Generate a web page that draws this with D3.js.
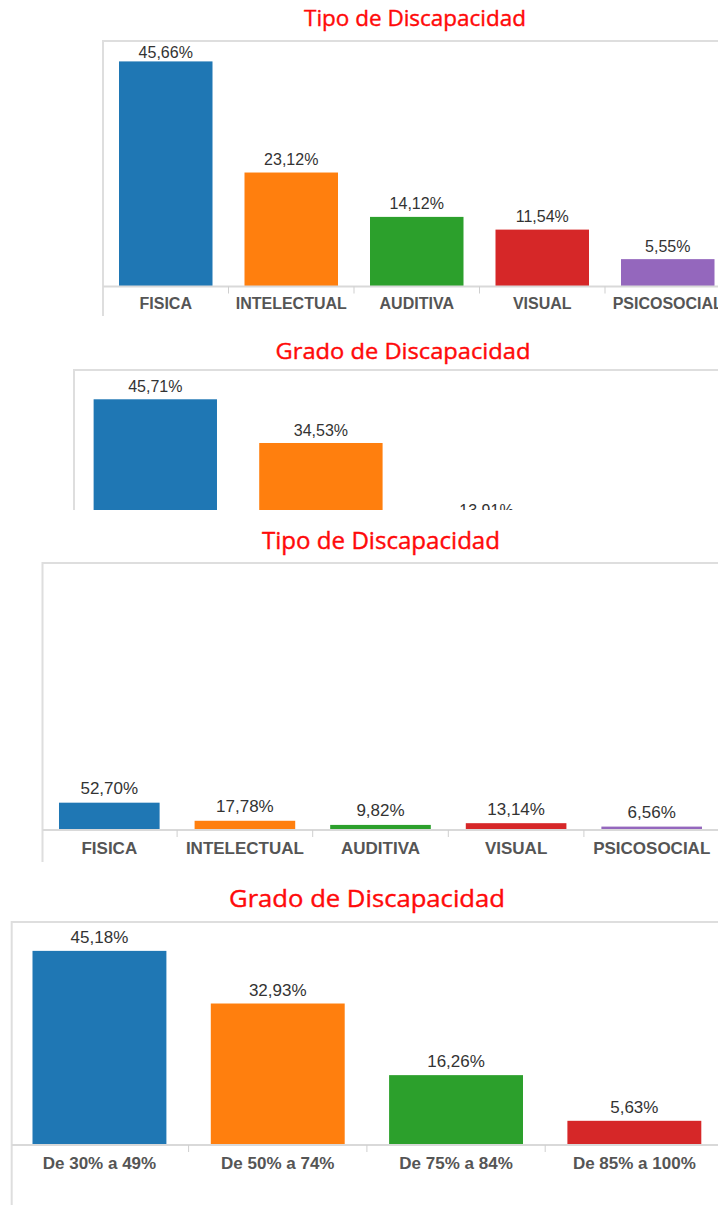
<!DOCTYPE html>
<html>
<head>
<meta charset="utf-8">
<script src="https://cdn.jsdelivr.net/npm/d3@7"></script>
<style>
  html, body { margin: 0; padding: 0; background: #fff; }
  svg { display: block; }
</style>
</head>
<body>
<svg id="chart" width="718" height="1205"></svg>
<script>
// Tipo de discapacidad (categorías comunes a ambos gráficos de tipo)
const tipoCategorias = ["FISICA", "INTELECTUAL", "AUDITIVA", "VISUAL", "PSICOSOCIAL"];
// Grado de discapacidad
const gradoCategorias = ["De 30% a 49%", "De 50% a 74%", "De 75% a 84%", "De 85% a 100%"];

// Porcentajes por gráfico
const tipoValoresA = [45.66, 23.12, 14.12, 11.54, 5.55];
const gradoValoresA = [45.71, 34.53, 13.91];
const tipoValoresB = [52.70, 17.78, 9.82, 13.14, 6.56];
const gradoValoresB = [45.18, 32.93, 16.26, 5.63];

const colores = d3.schemeCategory10;

const es = d3.formatLocale({ decimal: ",", thousands: ".", grouping: [3], currency: ["", " €"] });
const fmt = v => es.format(".2f")(v) + "%";

const W = 718;
const svg = d3.select("#chart");

// Layout of each panel
const paneles = [
  { titulo: "Tipo de Discapacidad", cats: tipoCategorias, vals: tipoValoresA,
    titleX: 415, titleY: 26, titleSize: 22.5, titleW: 222,
    frameLeft: 103, frameTop: 41, frameBottom: 316,
    x0: 103, step: 125.5, pad: 0.255,
    base: 286.5, yMax: 49.8,
    valSize: 16, catSize: 16, catY: 309, gap: 7.5 },
  { titulo: "Grado de Discapacidad", cats: gradoCategorias, vals: gradoValoresA,
    titleX: 403, titleY: 359, titleSize: 22.5, titleW: 255,
    frameLeft: 74, frameTop: 370, frameBottom: 600,
    x0: 72.5, step: 165.6, pad: 0.255,
    base: 578, yMax: 53.2,
    valSize: 16, catSize: 16, catY: 600, gap: 7.2, clipBottom: 510 },
  { titulo: "Tipo de Discapacidad", cats: tipoCategorias, vals: tipoValoresB,
    titleX: 381, titleY: 549, titleSize: 24, titleW: 238,
    frameLeft: 42.5, frameTop: 563, frameBottom: 862,
    x0: 41.5, step: 135.6, pad: 0.258,
    base: 830, yMax: 515,
    valSize: 17, catSize: 17, catY: 853.5, gap: 8.5 },
  { titulo: "Grado de Discapacidad", cats: gradoCategorias, vals: gradoValoresB,
    titleX: 367, titleY: 907, titleSize: 24, titleW: 276,
    frameLeft: 11.7, frameTop: 922, frameBottom: 1205,
    x0: 10.3, step: 178.3, pad: 0.249,
    base: 1145, yMax: 51.9,
    valSize: 17, catSize: 17, catY: 1169, gap: 8 }
];

const defs = svg.append("defs");

paneles.forEach((p, i) => {
  const g = svg.append("g");
  if (p.clipBottom) {
    const id = "clip" + i;
    defs.append("clipPath").attr("id", id)
      .append("rect").attr("x", 0).attr("y", 0).attr("width", W).attr("height", p.clipBottom);
    g.attr("clip-path", `url(#${id})`);
  }

  const n = p.cats.length;
  const x = d3.scaleBand()
    .domain(p.cats)
    .range([p.x0, p.x0 + p.step * n])
    .paddingInner(p.pad)
    .paddingOuter(p.pad / 2);
  const y = d3.scaleLinear().domain([0, p.yMax]).range([p.base, p.frameTop]);

  // Title
  g.append("text")
    .attr("x", p.titleX).attr("y", p.titleY)
    .attr("text-anchor", "middle")
    .attr("font-family", "'Open Sans', sans-serif")
    .attr("font-size", p.titleSize)
    .attr("textLength", p.titleW)
    .attr("lengthAdjust", "spacingAndGlyphs")
    .attr("fill", "#ff0a0a")
    .attr("stroke", "#ff0a0a")
    .attr("stroke-width", 0.4)
    .text(p.titulo);

  // Frame: top and left edges
  g.append("line")
    .attr("x1", p.frameLeft).attr("x2", W)
    .attr("y1", p.frameTop).attr("y2", p.frameTop)
    .attr("stroke", "#dedede").attr("stroke-width", 2);
  g.append("line")
    .attr("x1", p.frameLeft).attr("x2", p.frameLeft)
    .attr("y1", p.frameTop - 1).attr("y2", p.frameBottom)
    .attr("stroke", "#dedede").attr("stroke-width", 2);

  // Bars
  g.selectAll("rect.bar")
    .data(p.vals)
    .join("rect")
    .attr("class", "bar")
    .attr("x", (d, j) => x(p.cats[j]))
    .attr("width", x.bandwidth())
    .attr("y", d => y(d))
    .attr("height", d => y(0) - y(d))
    .attr("fill", (d, j) => colores[j]);

  // Category axis along the baseline
  const axis = d3.axisBottom(x).tickSize(0).tickPadding(0);
  const ax = g.append("g").attr("transform", `translate(0,${p.base})`).call(axis);
  ax.select(".domain").remove();
  ax.selectAll(".tick text")
    .attr("y", p.catY - p.base)
    .attr("dy", null)
    .attr("font-family", "'Liberation Sans', Arial, sans-serif")
    .attr("font-size", p.catSize)
    .attr("font-weight", "bold")
    .attr("fill", "#555");

  g.append("line")
    .attr("x1", p.frameLeft).attr("x2", W)
    .attr("y1", p.base).attr("y2", p.base)
    .attr("stroke", "#d9d9d9").attr("stroke-width", 2);

  // Separators between categories
  g.selectAll("line.sep")
    .data(p.cats.slice(1))
    .join("line")
    .attr("class", "sep")
    .attr("x1", c => x(c) - x.step() * p.pad / 2)
    .attr("x2", c => x(c) - x.step() * p.pad / 2)
    .attr("y1", p.base).attr("y2", p.base + 7)
    .attr("stroke", "#cfcfcf").attr("stroke-width", 1);

  // Value labels above bars, kept inside the frame
  const capTop = p.frameTop + p.valSize * 0.72 + 5;
  g.selectAll("text.val")
    .data(p.vals)
    .join("text")
    .attr("class", "val")
    .attr("x", (d, j) => x(p.cats[j]) + x.bandwidth() / 2)
    .attr("y", d => Math.max(y(d) - p.gap, capTop))
    .attr("text-anchor", "middle")
    .attr("font-family", "'Liberation Sans', Arial, sans-serif")
    .attr("font-size", p.valSize)
    .attr("fill", "#333")
    .text(d => fmt(d));
});
</script>
</body>
</html>
